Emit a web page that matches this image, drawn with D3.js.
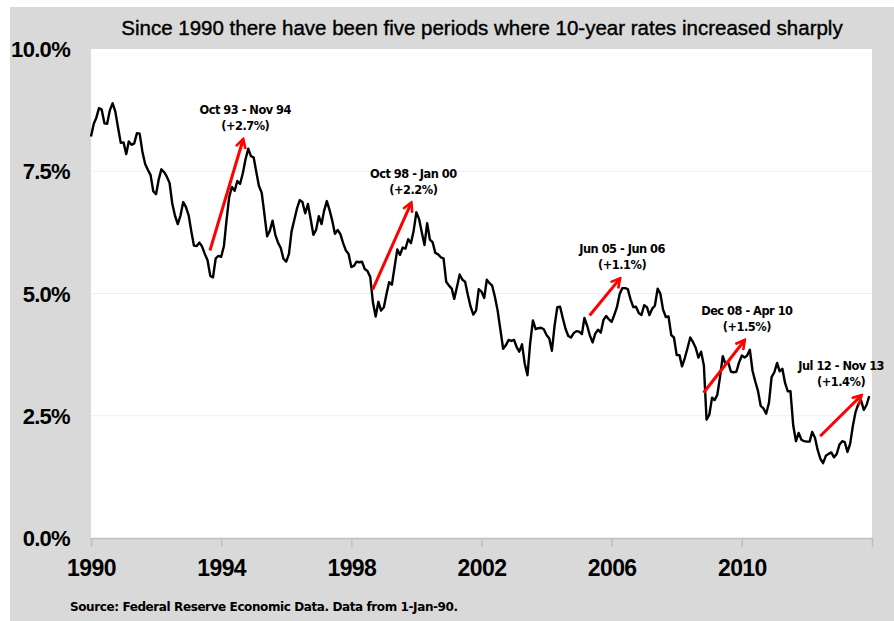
<!DOCTYPE html>
<html>
<head>
<meta charset="utf-8">
<script src="https://cdn.jsdelivr.net/npm/d3@7"></script>
<style>
  body { margin: 0; background: #fff; }
  svg { display: block; }
</style>
</head>
<body>
<div id="chartbox"></div>
<script>

// monthly 10-year treasury yield, % (Jan 1990 - Dec 2013)
const startYear = 1990
const rates = [
  8.21, 8.47, 8.59, 8.79, 8.76, 8.48, 8.47, 8.75, 8.89, 8.72, 8.39, 8.08,
  8.09, 7.85, 8.11, 8.04, 8.07, 8.28, 8.27, 7.90, 7.65, 7.53, 7.42, 7.09,
  7.03, 7.34, 7.54, 7.48, 7.39, 7.26, 6.84, 6.59, 6.42, 6.59, 6.87, 6.77,
  6.60, 6.26, 5.98, 5.97, 6.04, 5.96, 5.81, 5.68, 5.36, 5.33, 5.72, 5.77,
  5.75, 5.97, 6.48, 6.97, 7.18, 7.10, 7.30, 7.24, 7.46, 7.74, 7.96, 7.81,
  7.78, 7.47, 7.20, 7.06, 6.63, 6.17, 6.28, 6.49, 6.20, 6.04, 5.93, 5.71,
  5.65, 5.81, 6.27, 6.51, 6.74, 6.91, 6.87, 6.64, 6.83, 6.53, 6.20, 6.30,
  6.58, 6.42, 6.69, 6.89, 6.71, 6.49, 6.22, 6.30, 6.21, 6.03, 5.88, 5.81,
  5.54, 5.57, 5.65, 5.64, 5.65, 5.50, 5.46, 5.34, 4.81, 4.53, 4.83, 4.65,
  4.72, 5.00, 5.23, 5.18, 5.54, 5.90, 5.79, 5.94, 5.92, 6.11, 6.03, 6.28,
  6.66, 6.52, 6.26, 5.99, 6.44, 6.10, 6.05, 5.83, 5.80, 5.74, 5.72, 5.24,
  5.16, 5.10, 4.89, 5.14, 5.39, 5.28, 5.24, 4.97, 4.73, 4.57, 4.65, 5.09,
  5.04, 4.91, 5.28, 5.21, 5.16, 4.93, 4.65, 4.26, 3.87, 3.94, 4.05, 4.03,
  4.05, 3.90, 3.81, 3.96, 3.57, 3.33, 3.98, 4.45, 4.27, 4.29, 4.30, 4.27,
  4.15, 4.08, 3.83, 4.35, 4.72, 4.73, 4.50, 4.28, 4.13, 4.10, 4.19, 4.23,
  4.22, 4.17, 4.50, 4.34, 4.14, 4.00, 4.18, 4.26, 4.20, 4.46, 4.54, 4.47,
  4.42, 4.57, 4.72, 4.99, 5.11, 5.11, 5.09, 4.88, 4.72, 4.73, 4.60, 4.56,
  4.76, 4.72, 4.56, 4.69, 4.75, 5.10, 5.00, 4.67, 4.52, 4.53, 4.15, 4.10,
  3.74, 3.74, 3.51, 3.68, 3.88, 4.10, 4.01, 3.89, 3.69, 3.81, 3.53, 2.42,
  2.52, 2.87, 2.82, 2.93, 3.29, 3.72, 3.56, 3.59, 3.40, 3.39, 3.40, 3.59,
  3.73, 3.69, 3.73, 3.85, 3.42, 3.20, 3.01, 2.70, 2.65, 2.54, 2.76, 3.29,
  3.39, 3.58, 3.41, 3.46, 3.17, 3.00, 3.00, 2.30, 1.98, 2.15, 2.01, 1.98,
  1.97, 1.97, 2.17, 2.05, 1.80, 1.62, 1.53, 1.68, 1.72, 1.75, 1.65, 1.72,
  1.91, 1.98, 1.96, 1.76, 1.93, 2.30, 2.58, 2.74, 2.81, 2.62, 2.72, 2.90
]

const yTicks = [0, 2.5, 5, 7.5, 10]
const xTickYears = [1990, 1994, 1998, 2002, 2006, 2010, 2014]
const xTickLabels = ['1990', '1994', '1998', '2002', '2006', '2010', '']

const periodLabels = ['Oct 93 - Nov 94', 'Oct 98 - Jan 00', 'Jun 05 - Jun 06', 'Dec 08 - Apr 10', 'Jul 12 - Nov 13']
const periodChanges = ['(+2.7%)', '(+2.2%)', '(+1.1%)', '(+1.5%)', '(+1.4%)']
const periodStart = ['1993-10', '1998-10', '2005-06', '2008-12', '2012-07']
const periodEnd = ['1994-11', '2000-01', '2006-06', '2010-04', '2013-11']

const titleText = 'Since 1990 there have been five periods where 10-year rates increased sharply'
const sourceText = 'Source: Federal Reserve Economic Data. Data from 1-Jan-90.'

const W = 894, H = 621
const plot = {left: 91, right: 872, top: 49, bottom: 538}
const labelFont = '"Liberation Sans", Arial, sans-serif'
const noteFont = '"DejaVu Sans", Tahoma, sans-serif'

const data = rates.map((v, i) => ({date: new Date(startYear, i, 1), value: v}))
const byMonth = new Map(data.map(d => [d3.timeFormat('%Y-%m')(d.date), d]))

const svg = d3.select('#chartbox')
  .append('svg')
  .attr('width', W)
  .attr('height', H)

svg.append('rect')
  .attr('x', 10).attr('y', 7)
  .attr('width', W - 10).attr('height', H - 7)
  .attr('fill', '#d9d9d9')

svg.append('rect')
  .attr('x', plot.left).attr('y', plot.top)
  .attr('width', plot.right - plot.left).attr('height', plot.bottom - plot.top)
  .attr('fill', '#fff')

const x = d3.scaleTime()
  .domain([new Date(1990, 0, 1), new Date(2014, 0, 1)])
  .range([plot.left, plot.right])

const y = d3.scaleLinear()
  .domain([0, 10])
  .range([plot.bottom, plot.top])

// gridlines
svg.append('g')
  .selectAll('line')
  .data(yTicks.filter(t => t > 0 && t < 10))
  .enter()
  .append('line')
  .attr('x1', plot.left).attr('x2', plot.right)
  .attr('y1', d => y(d)).attr('y2', d => y(d))
  .attr('stroke', '#efefef')
  .attr('stroke-width', 1)

// y labels
svg.append('g')
  .selectAll('text')
  .data(yTicks)
  .enter()
  .append('text')
  .attr('x', 70)
  .attr('y', d => y(d) + 8)
  .attr('text-anchor', 'end')
  .attr('font-family', labelFont)
  .attr('font-weight', 'bold')
  .attr('font-size', 22)
  .attr('letter-spacing', -0.7)
  .attr('fill', '#000')
  .text(d => d3.format('.1f')(d) + '%')

// x axis
const xAxis = d3.axisBottom(x)
  .tickValues(xTickYears.map(yr => new Date(yr, 0, 1)))
  .tickSize(9)
  .tickSizeOuter(0)
  .tickFormat((d, i) => xTickLabels[i])

const gx = svg.append('g')
  .attr('transform', `translate(0,${plot.bottom})`)
  .call(xAxis)

gx.select('.domain').attr('stroke', '#bfbfbf').attr('stroke-width', 1.5)
gx.selectAll('.tick line').attr('stroke', '#bfbfbf').attr('stroke-width', 1.5)
gx.selectAll('.tick text')
  .attr('y', 38)
  .attr('dy', 0)
  .attr('font-family', labelFont)
  .attr('font-weight', 'bold')
  .attr('font-size', 23)
  .attr('letter-spacing', -0.6)
  .attr('fill', '#000')

// rate line
svg.append('path')
  .datum(data)
  .attr('fill', 'none')
  .attr('stroke', '#000')
  .attr('stroke-width', 2.4)
  .attr('stroke-linejoin', 'round')
  .attr('d', d3.line().x(d => x(d.date)).y(d => y(d.value)))

// arrows
svg.append('defs')
  .append('marker')
  .attr('id', 'head')
  .attr('viewBox', '0 0 12 12')
  .attr('refX', 10).attr('refY', 6)
  .attr('markerWidth', 12).attr('markerHeight', 12)
  .attr('markerUnits', 'userSpaceOnUse')
  .attr('orient', 'auto')
  .append('path')
  .attr('d', 'M1,1 L10,6 L1,11')
  .attr('fill', 'none')
  .attr('stroke', 'red')
  .attr('stroke-width', 2.6)

const periods = periodLabels.map((label, i) => {
  const a = byMonth.get(periodStart[i]), b = byMonth.get(periodEnd[i])
  return {
    label, change: periodChanges[i],
    x0: x(a.date) - 3, y0: y(a.value + 0.55),
    x1: x(b.date) - 5, y1: y(b.value + 0.2)
  }
})

svg.append('g')
  .selectAll('line')
  .data(periods)
  .enter()
  .append('line')
  .attr('x1', d => d.x0).attr('y1', d => d.y0)
  .attr('x2', d => d.x1).attr('y2', d => d.y1)
  .attr('stroke', 'red')
  .attr('stroke-width', 3)
  .attr('marker-end', 'url(#head)')

const notes = svg.append('g')
  .selectAll('text')
  .data(periods)
  .enter()
  .append('text')
  .attr('font-family', noteFont)
  .attr('font-weight', 'bold')
  .attr('font-size', 11.4)
  .attr('letter-spacing', -0.5)
  .attr('text-anchor', 'middle')
  .attr('fill', '#000')

notes.append('tspan').attr('y', d => d.y1 - 25).text(d => d.label)
notes.append('tspan').attr('y', d => d.y1 - 9).text(d => d.change)

notes.each(function(d) {
  const w = d3.max(d3.select(this).selectAll('tspan').nodes(), n => n.getComputedTextLength())
  const cx = Math.min(d.x1 + 2, 884 - w / 2)
  d3.select(this).selectAll('tspan').attr('x', cx)
})

// title and source
svg.append('text')
  .attr('x', 482)
  .attr('y', 35)
  .attr('text-anchor', 'middle')
  .attr('font-family', labelFont)
  .attr('font-size', 20.5)
  .attr('fill', '#000')
  .attr('stroke', '#000')
  .attr('stroke-width', 0.4)
  .text(titleText)

svg.append('text')
  .attr('x', 70)
  .attr('y', 611)
  .attr('font-family', noteFont)
  .attr('font-weight', 'bold')
  .attr('font-size', 12)
  .attr('letter-spacing', -0.4)
  .attr('fill', '#000')
  .text(sourceText)

</script>
</body>
</html>
